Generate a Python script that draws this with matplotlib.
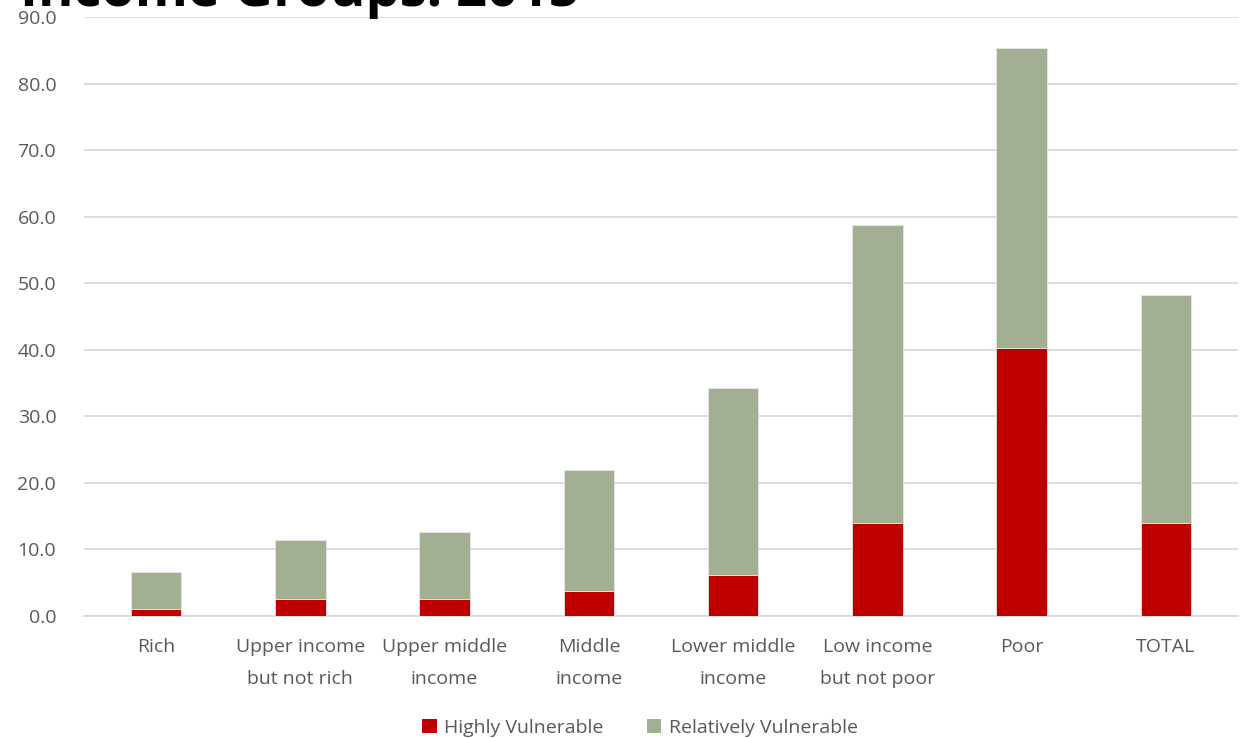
import matplotlib.pyplot as plt
import numpy as np
from matplotlib.patches import Patch

categories = ["Rich", "Upper income\nbut not rich", "Upper middle\nincome", "Middle\nincome",
              "Lower middle\nincome", "Low income\nbut not poor", "Poor", "TOTAL"]
highly = [1.0, 2.6, 2.6, 3.8, 6.2, 13.9, 40.3, 13.9]
relatively = [5.6, 8.8, 10.0, 18.1, 28.1, 44.8, 45.0, 34.4]

red = "#C00000"
green = "#A3AF93"
text_col = "#595959"
grid_col = "#D9D9D9"

plt.rcParams['font.family'] = ['Open Sans', 'DejaVu Sans']

fig = plt.figure(figsize=(12.43, 7.38), dpi=100)
ax = fig.add_axes([84 / 1243, 1 - 616 / 738, (1238 - 84) / 1243, (616 - 17) / 738])

x = np.arange(len(categories))
ax.bar(x, highly, width=0.35, color=red, edgecolor="#E6E6E6", linewidth=0.6, zorder=3)
ax.bar(x, relatively, width=0.35, bottom=highly, color=green, edgecolor="#E6E6E6", linewidth=0.6, zorder=3)

ax.set_xlim(-0.5, len(categories) - 0.5)
ax.set_ylim(0, 90)
ax.set_yticks(np.arange(0, 91, 10))
ax.set_yticklabels([f"{v:.1f}" for v in np.arange(0, 91, 10)])
ax.set_xticks(x)
ax.set_xticklabels(categories, linespacing=1.95)

ax.yaxis.grid(True, color=grid_col, linewidth=1.3, zorder=0)
for s in ["top", "right", "left"]:
    ax.spines[s].set_visible(False)
ax.spines["bottom"].set_color(grid_col)
ax.spines["bottom"].set_linewidth(1.3)
ax.tick_params(axis="both", length=0, labelsize=14, labelcolor=text_col)
ax.tick_params(axis="y", pad=20)
ax.tick_params(axis="x", pad=16)

# title line sits partly above the canvas
fig.text(20 / 1243, 1 - 6 / 738, "Income Groups: 2015", fontsize=39, fontweight="bold",
         color="black", ha="left", va="baseline")

handles = [Patch(facecolor=red, label="Highly Vulnerable"),
           Patch(facecolor=green, label="Relatively Vulnerable")]
fig.legend(handles=handles, loc="center", bbox_to_anchor=(640 / 1243, 1 - 728 / 738), ncol=2,
           frameon=False, fontsize=14, labelcolor=text_col, handlelength=0.75, handleheight=0.75,
           handletextpad=0.4, columnspacing=2.2)

fig.savefig("out.png", dpi=100)
